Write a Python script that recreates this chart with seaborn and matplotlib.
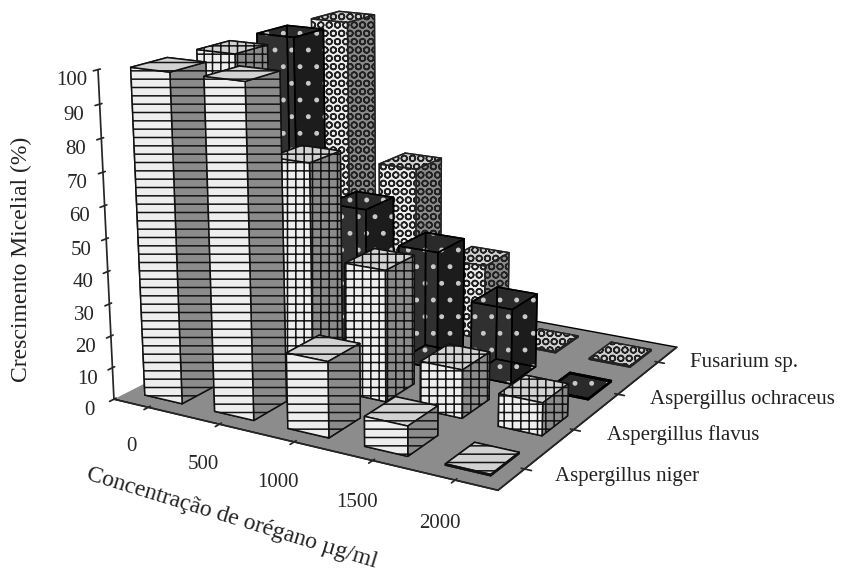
import numpy as np
import matplotlib
matplotlib.use('Agg')
import matplotlib.pyplot as plt
import seaborn as sns

# Values
concentracoes = ['0', '500', '1000', '1500', '2000']
especies = ['Aspergillus niger', 'Aspergillus flavus', 'Aspergillus ochraceus', 'Fusarium sp.']
niger = [100, 100, 23, 9, 0]
flavus = [100, 70, 41, 15, 10]
ochraceus = [100, 48, 38, 24, 0]
fusarium = [100, 54, 25, 0, 0]

sns.set_theme(style='white')
plt.rcParams['font.family'] = ['Liberation Serif', 'DejaVu Serif']
plt.rcParams['hatch.linewidth'] = 1.1

series = [niger, flavus, ochraceus, fusarium]
estilos = [
    dict(color='white', edgecolor='#111111', hatch='--'),
    dict(color='white', edgecolor='#111111', hatch='++'),
    dict(color='#333333', edgecolor='#c8c8c8', hatch='.'),
    dict(color='white', edgecolor='#222222', hatch='OO'),
]

fig = plt.figure(figsize=(8.42, 5.71), dpi=100)
ax = fig.add_axes([-0.068, 0.025, 1.08, 1.157], projection='3d', computed_zorder=True)
ax.view_init(elev=16, azim=-60)
ax.set_proj_type('persp', focal_length=0.5)
ax.set_box_aspect((1.03, 1.01, 0.80))

w = 0.54
luz = matplotlib.colors.LightSource(200, 30)
for j, valores in enumerate(series):
    for i, v in enumerate(valores):
        h = max(v, 0.4)
        ax.bar3d(i - w / 2, j - w / 2, 0, w, w, h, linewidth=1.1 if j != 2 else 0,
                 shade=True, lightsource=luz, **estilos[j])
        if j == 2:
            ax.bar3d(i - w / 2, j - w / 2, 0, w, w, h, color=(0, 0, 0, 0),
                     edgecolor='black', linewidth=1.1, shade=False)

ax.set_xlim(-0.5, 4.5)
ax.set_ylim(-0.5, 3.5)
ax.set_zlim(0, 100)

ax.set_xticks(range(5))
ax.set_xticklabels(concentracoes, fontsize=15)
ax.set_yticks(range(4))
ax.set_yticklabels([])
ax.set_zticks(range(0, 101, 10))
ax.zaxis.set_ticks_position('lower')
ax.tick_params(axis='z', labelsize=15, pad=2)
ax.tick_params(axis='x', pad=8)
ax.grid(False)

ax.xaxis.set_pane_color((1, 1, 1, 0))
ax.yaxis.set_pane_color((1, 1, 1, 0))
ax.zaxis.set_pane_color('#8c8c8c')
ax.xaxis.pane.set_edgecolor('none')
ax.yaxis.pane.set_edgecolor('none')
ax.zaxis.pane.set_edgecolor('black')

# species names sit above where the 3d tick labels would fall
pos_x = [0.659, 0.721, 0.772, 0.820]
pos_y = [0.165, 0.238, 0.300, 0.366]
for nome, px, py in zip(especies, pos_x, pos_y):
    fig.text(px, py, nome, fontsize=15, ha='left', va='center', color='#222222')

fig.text(0.026, 0.545, 'Crescimento Micelial (%)', rotation=90, fontsize=17,
         ha='center', va='center', color='#222222')
fig.text(0.275, 0.093, 'Concentração de orégano µg/ml', rotation=-17, fontsize=17,
         ha='center', va='center', color='#222222')

fig.savefig('out.png', dpi=100)
